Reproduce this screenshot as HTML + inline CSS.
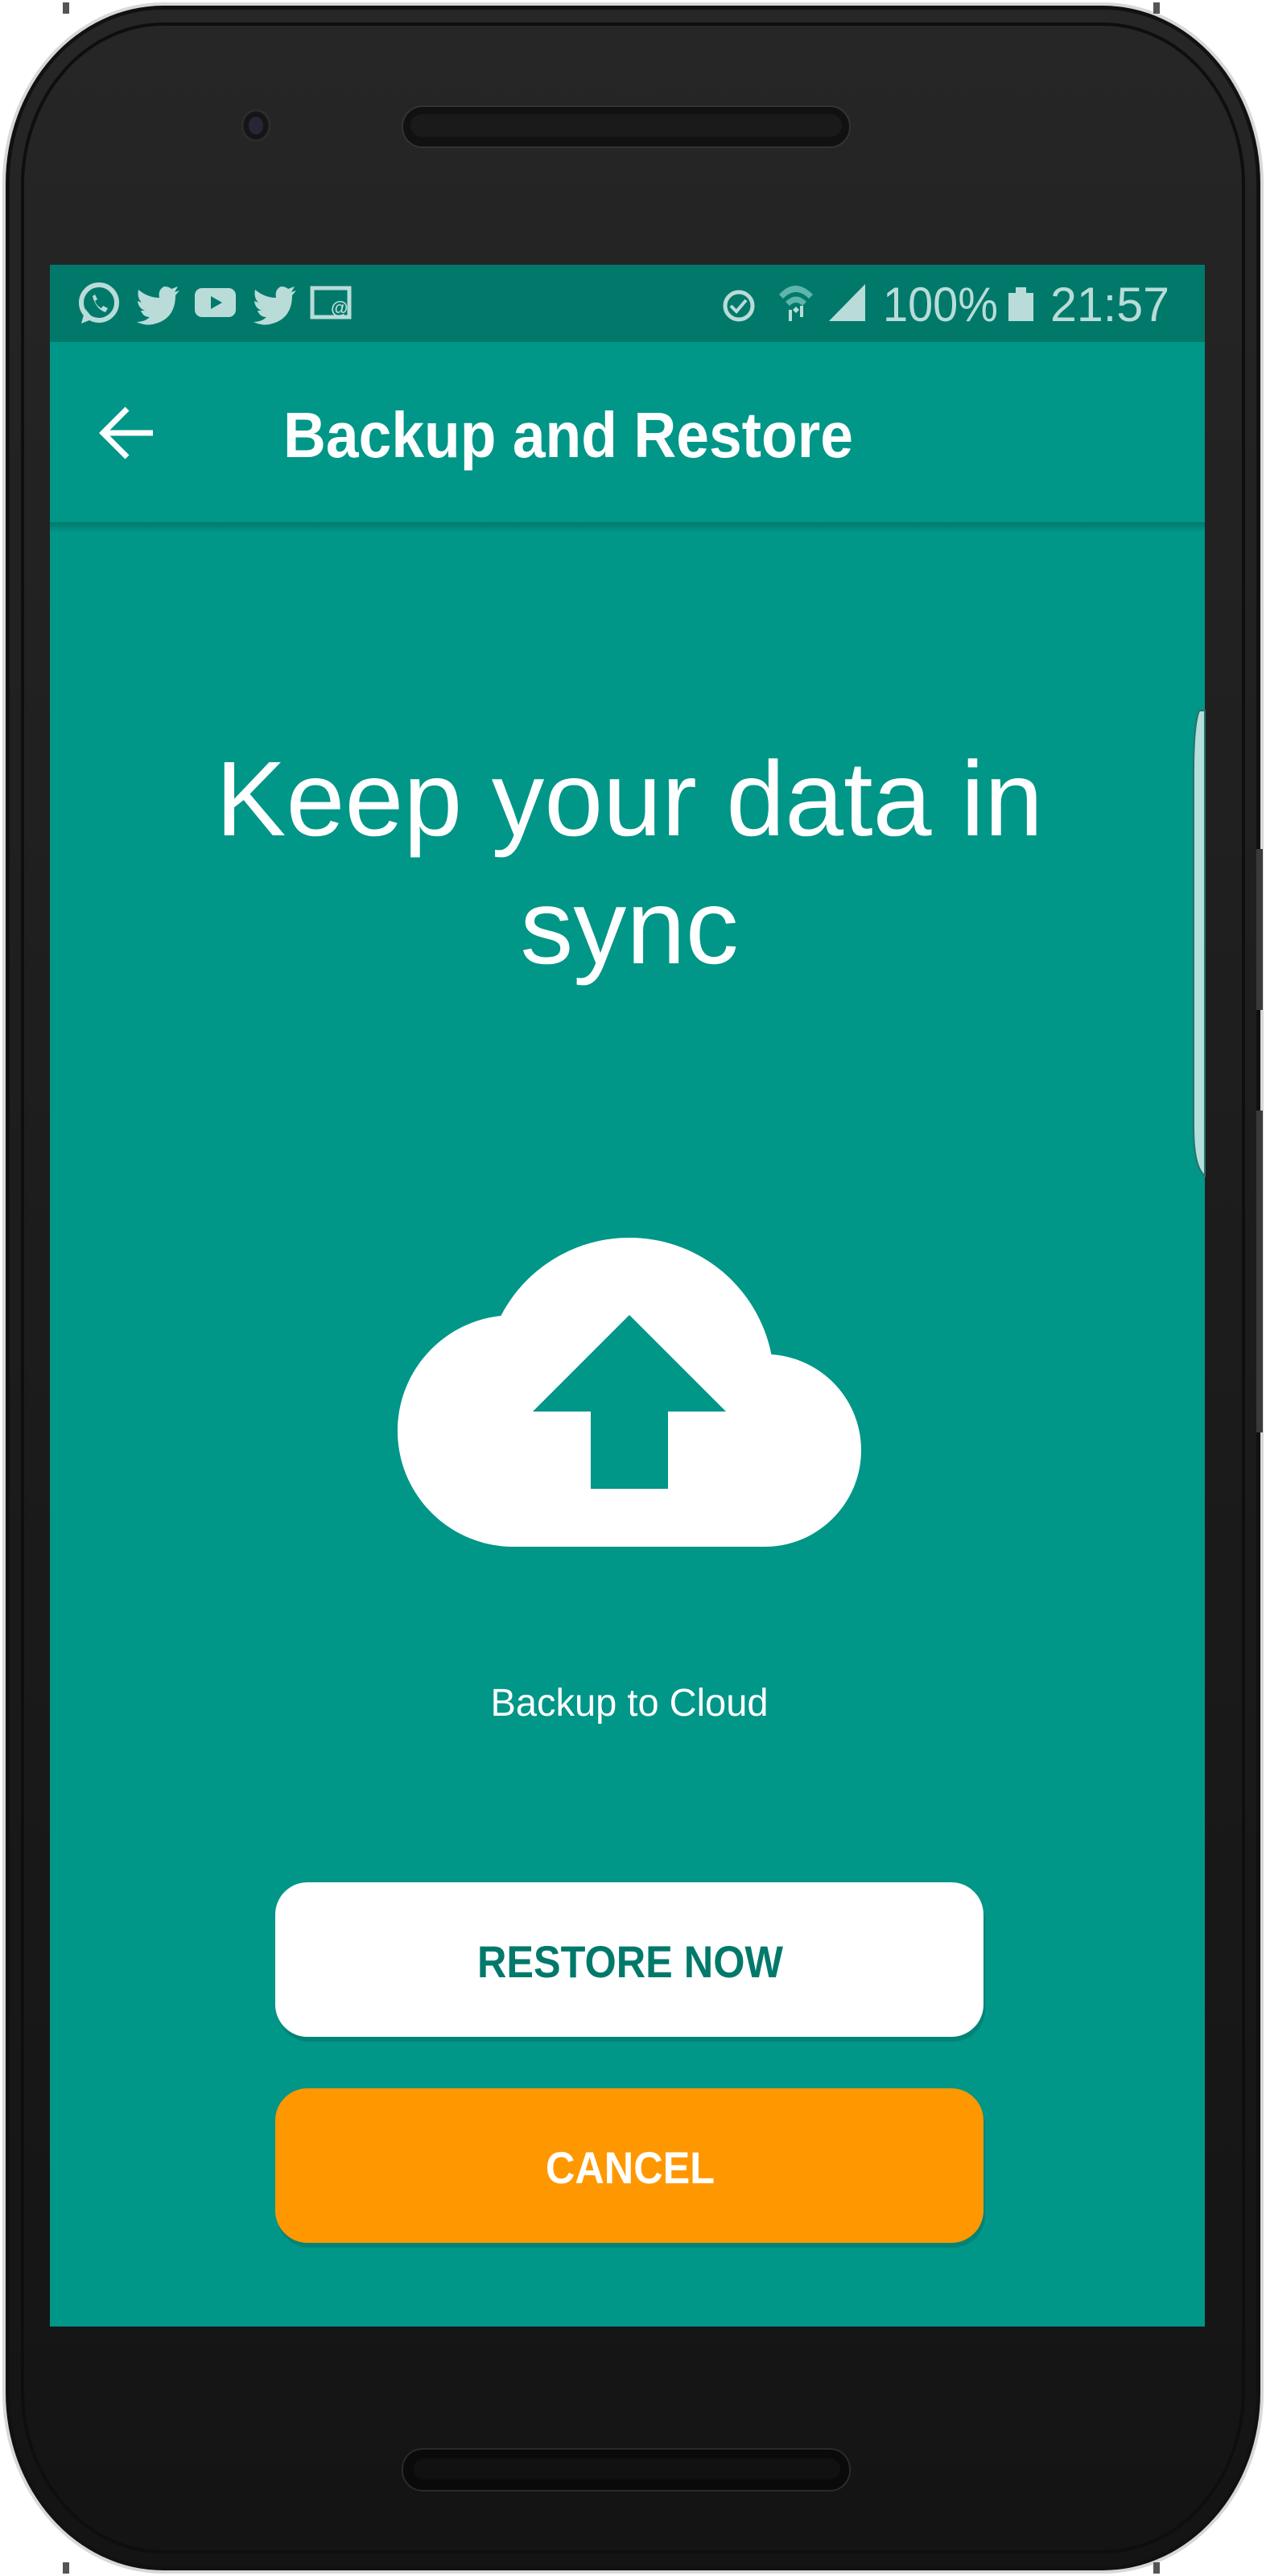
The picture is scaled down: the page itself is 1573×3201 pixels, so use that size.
<!DOCTYPE html>
<html><head><meta charset="utf-8"><style>
html,body{margin:0;padding:0;background:#fff;}
svg{display:block;}
text{font-family:"Liberation Sans",sans-serif;}
</style></head><body>
<svg width="1573" height="3201" viewBox="0 0 1573 3201" xmlns="http://www.w3.org/2000/svg">
<defs>
<linearGradient id="body" x1="0" y1="0" x2="0" y2="1">
<stop offset="0" stop-color="#262626"/><stop offset="0.5" stop-color="#1c1c1c"/><stop offset="1" stop-color="#141414"/>
</linearGradient>
<linearGradient id="shadow" x1="0" y1="0" x2="0" y2="1">
<stop offset="0" stop-color="#00786c"/><stop offset="1" stop-color="#009688"/>
</linearGradient>
</defs>
<rect width="1573" height="3201" fill="#ffffff"/>
<rect x="3" y="3" width="1567" height="3195" rx="200" ry="225" fill="#d8d8d8"/>
<rect x="7" y="7" width="1559" height="3187" rx="196" ry="221" fill="#111"/>
<rect x="12" y="12" width="1549" height="3177" rx="190" ry="215" fill="url(#body)"/>
<rect x="28" y="30" width="1517" height="3141" rx="175" ry="200" fill="none" stroke="#0e0e0e" stroke-width="4"/>
<rect x="78" y="3" width="8" height="14" fill="#555"/>
<rect x="1433" y="3" width="8" height="14" fill="#555"/>
<rect x="78" y="3184" width="8" height="14" fill="#555"/>
<rect x="1433" y="3184" width="8" height="14" fill="#555"/>
<rect x="1561" y="1055" width="8" height="200" fill="#3a3a3a"/>
<rect x="1561" y="1380" width="8" height="400" fill="#3a3a3a"/>
<ellipse cx="318" cy="156" rx="17" ry="19" fill="#151515" stroke="#2c2c2c" stroke-width="3"/>
<ellipse cx="318" cy="156" rx="9" ry="11" fill="#2a2536"/>
<rect x="500" y="132" width="556" height="51" rx="25" fill="#111" stroke="#333" stroke-width="2"/>
<rect x="510" y="142" width="536" height="28" rx="14" fill="#1a1a1a"/>
<rect x="500" y="3043" width="556" height="52" rx="25" fill="#0a0a0a" stroke="#2a2a2a" stroke-width="2"/>
<rect x="514" y="3055" width="530" height="26" rx="13" fill="#111"/>
<rect x="62" y="329" width="1435" height="2562" fill="#009688"/>
<rect x="62" y="329" width="1435" height="96" fill="#00796b"/>
<rect x="62" y="649" width="1435" height="12" fill="url(#shadow)"/>
<g fill="#b9dcd8">
<circle cx="123" cy="376" r="22" fill="none" stroke="#b9dcd8" stroke-width="6"/>
<path d="M101 402 L106 384 L116 396 Z"/>
<path d="M115 368 q4 16 16 20 l3 -5 l-6 -3 l-2 3 q-6 -3 -8 -9 l3 -2 l-3 -6 z"/>
<path d="M172 360 q12 10 26 10 q-2 -10 6 -14 q6 0 9 3 l8 -3 l-4 7 l6 -2 l-5 6 q0 30 -28 36 q-10 2 -20 -3 q10 0 16 -6 q-8 0 -11 -8 l5 0 q-8 -3 -9 -12 l5 2 q-6 -6 -4 -16 z"/>
<rect x="242" y="358" width="51" height="36" rx="9"/>
<path d="M317 360 q12 10 26 10 q-2 -10 6 -14 q6 0 9 3 l8 -3 l-4 7 l6 -2 l-5 6 q0 30 -28 36 q-10 2 -20 -3 q10 0 16 -6 q-8 0 -11 -8 l5 0 q-8 -3 -9 -12 l5 2 q-6 -6 -4 -16 z"/>
<rect x="388" y="358" width="46" height="36" fill="none" stroke="#b9dcd8" stroke-width="5"/>
</g>
<path d="M262 368 l14 8 l-14 8 z" fill="#00796b"/>
<text x="411" y="390" font-size="22" fill="#b9dcd8" font-weight="bold">@</text>
<g fill="#b9dcd8">
<circle cx="918" cy="380" r="17" fill="none" stroke="#b9dcd8" stroke-width="5"/>
<path d="M908 380 l7 7 l12 -14" fill="none" stroke="#b9dcd8" stroke-width="4"/>
<path d="M968 366 q20 -22 42 0 l-5 5 q-16 -16 -32 0 z" fill="#5fb5ab"/>
<path d="M976 375 q13 -13 26 0 l-5 5 q-8 -8 -16 0 z" fill="#5fb5ab"/>
<path d="M985 385 l4 -4 l4 4 l-4 4 z"/>
<rect x="980" y="385" width="4" height="14"/><rect x="994" y="380" width="4" height="14"/>
<path d="M1030 399 L1075 353 L1075 399 Z"/>
<rect x="1253" y="364" width="31" height="35"/><rect x="1262" y="357" width="13" height="8"/>
<text x="1097" y="399" font-size="60" textLength="143" lengthAdjust="spacingAndGlyphs">100%</text>
<text x="1305" y="399" font-size="60" textLength="148" lengthAdjust="spacingAndGlyphs">21:57</text>
</g>
<path d="M190 538 L130 538 M158 508 L128 538 L158 568" fill="none" stroke="#fff" stroke-width="7"/>
<text x="352" y="568" font-size="80" font-weight="bold" fill="#fff" textLength="708" lengthAdjust="spacingAndGlyphs">Backup and Restore</text>
<path d="M1497 883 L1490 883 Q1483 900 1483 960 L1483 1400 Q1483 1450 1497 1461 Z" fill="#b2dfdb" stroke="#2c6f68" stroke-width="2"/>
<text x="268" y="1038" font-size="132" fill="#fff" textLength="1028" lengthAdjust="spacingAndGlyphs">Keep your data in</text>
<text x="782" y="1197" font-size="132" fill="#fff" text-anchor="middle">sync</text>
<g transform="translate(494,1442) scale(24)">
<path fill="#fff" fill-rule="evenodd" d="M19.35 10.04C18.670 6.59 15.64 4 12 4 9.11 4 6.6 5.64 5.35 8.04 2.34 8.36 0 10.91 0 14c0 3.31 2.69 6 6 6h13c2.76 0 5-2.240 5-5 0-2.64-2.05-4.78-4.65-4.96zM14 13v4h-4v-4H7l5-5 5 5h-3z"/>
</g>
<text x="782" y="2132" font-size="48" fill="#fff" text-anchor="middle" textLength="345" lengthAdjust="spacingAndGlyphs">Backup to Cloud</text>
<rect x="344" y="2345" width="880" height="192" rx="40" fill="#00786c" opacity="0.6"/>
<rect x="342" y="2339" width="880" height="192" rx="40" fill="#fff"/>
<text x="593" y="2457" font-size="56" font-weight="bold" fill="#00796b" textLength="380" lengthAdjust="spacingAndGlyphs">RESTORE NOW</text>
<rect x="344" y="2601" width="880" height="192" rx="40" fill="#00786c" opacity="0.6"/>
<rect x="342" y="2595" width="880" height="192" rx="40" fill="#ff9800"/>
<text x="678" y="2713" font-size="56" font-weight="bold" fill="#fff" textLength="210" lengthAdjust="spacingAndGlyphs">CANCEL</text>
</svg>
</body></html>
